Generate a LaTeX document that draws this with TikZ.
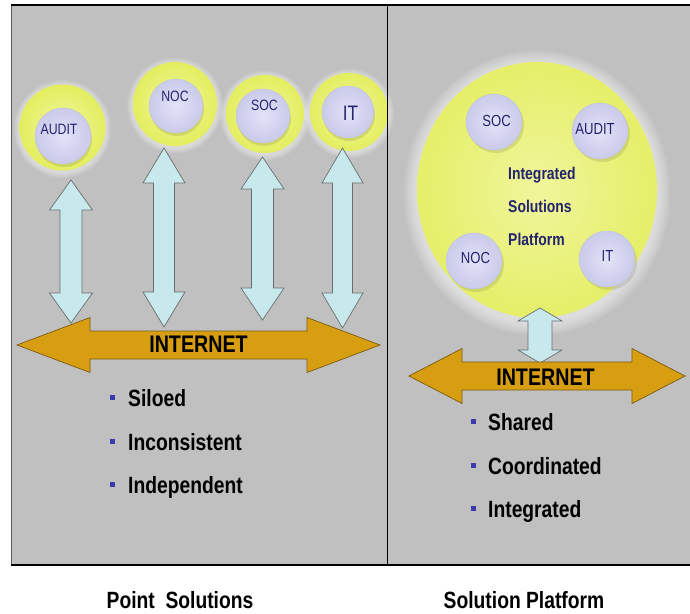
\documentclass[tikz,border=0pt]{standalone}
\usepackage{fontspec}
\setmainfont[FakeStretch=0.82]{Liberation Sans}
\definecolor{panelgray}{HTML}{C0C0C0}
\definecolor{limein}{HTML}{F1F6A0}
\definecolor{limeout}{HTML}{E3EE5E}
\definecolor{biglimein}{HTML}{F0F59C}
\definecolor{biglimeout}{HTML}{E5EF68}
\definecolor{lavin}{HTML}{E2E2F8}
\definecolor{lavout}{HTML}{CACAEA}
\definecolor{navy}{HTML}{23236E}
\definecolor{cyanfill}{HTML}{C8E9EB}
\definecolor{arrowline}{HTML}{6A6E70}
\definecolor{gold}{HTML}{D69E10}
\definecolor{golddark}{HTML}{7A5A12}
\definecolor{bulletblue}{HTML}{3A3AAE}
\newcommand{\vdarrow}[6]{%
  \draw[blockarrow] (#1,#2) -- (#1+#4,#2+#6) -- (#1+#5,#2+#6) -- (#1+#5,#3-#6) -- (#1+#4,#3-#6) -- (#1,#3)
    -- (#1-#4,#3-#6) -- (#1-#5,#3-#6) -- (#1-#5,#2+#6) -- (#1-#4,#2+#6) -- cycle;}
\newcommand{\hdarrow}[6]{%
  \draw[netarrow] (#1,#3) -- (#1+#6,#3-#4) -- (#1+#6,#3-#5) -- (#2-#6,#3-#5) -- (#2-#6,#3-#4) -- (#2,#3)
    -- (#2-#6,#3+#4) -- (#2-#6,#3+#5) -- (#1+#6,#3+#5) -- (#1+#6,#3+#4) -- cycle;}
\tikzset{
  ring/.style={circle, inner sep=0pt, inner color=limein, outer color=limeout},
  ball/.style={circle, inner sep=0pt, inner color=lavin, outer color=lavout, draw=lavout!85!gray, line width=0.3pt},
  lbl/.style={inner sep=0pt, text=navy, font=\fontsize{15}{18}\selectfont, text height=10.8pt, text depth=0pt},
  blockarrow/.style={fill=cyanfill, draw=arrowline, line width=0.7pt, line join=miter},
  netarrow/.style={fill=gold, draw=golddark, line width=0.7pt, line join=miter},
  nettext/.style={inner sep=0pt, font=\bfseries\fontsize{24}{28}\selectfont, text height=17.3pt, text depth=0pt},
  bsq/.style={fill=bulletblue, minimum size=5pt, inner sep=0pt},
  btext/.style={anchor=west, inner sep=0pt, font=\bfseries\fontsize{23.5}{28}\selectfont, text height=17pt, text depth=0pt},
  ptext/.style={anchor=west, inner sep=0pt, text=navy, font=\bfseries\fontsize{17}{20}\selectfont, text height=12.2pt, text depth=0pt},
  captext/.style={inner sep=0pt, font=\bfseries\fontsize{23.5}{26}\selectfont, text height=16.8pt, text depth=0pt},
}
\begin{document}
\begin{tikzpicture}[x=1pt,y=-1pt]
\useasboundingbox (0,0) rectangle (690,613);
\fill[white] (0,0) rectangle (690,613);
\fill[panelgray] (11,5) rectangle (690,565);
% ---------- left panel circles ----------
\foreach \cx/\cy/\r in {62.5/127.5/43, 175/104/42, 265/114/39, 349/112/39}{
  \foreach \k in {1,...,6}{
    \fill[white, opacity=0.09] (\cx,\cy+1.5) circle (\r+7-\k);
  }
}
\node[ring, minimum size=86pt] (auditO) at (62.5,127.5) {};
\node[ring, minimum size=84pt] (nocO) at (175,104) {};
\node[ring, minimum size=78pt] (socO) at (265,114) {};
\node[ring, minimum size=78pt] (itO) at (349,112) {};
\foreach \cx/\cy/\r in {64/139/28, 177/109/27, 264/119/27, 349/115/26}{
  \fill[black!60!olive, opacity=0.15] (\cx,\cy) circle (\r);
}
\node[ball, minimum size=56pt] (auditB) at (63,136) {};
\node[ball, minimum size=54pt] (nocB) at (176,106) {};
\node[ball, minimum size=54pt] (socB) at (263,116) {};
\node[ball, minimum size=52pt] (itB) at (348,112) {};
\node[lbl] (auditL) at (59,129) {AUDIT};
\node[lbl] (nocL) at (175,96.5) {NOC};
\node[lbl] (socL) at (264.5,105) {SOC};
\node[lbl, font=\fontsize{21}{24}\selectfont, text height=15pt] (itL) at (350.5,112.5) {IT};
% ---------- left arrows ----------
\vdarrow{71}{180}{323}{21.5}{11}{30}
\vdarrow{164}{148}{327}{21}{10.5}{35}
\vdarrow{262.5}{157}{320}{21.5}{11}{32}
\vdarrow{342.5}{148}{328}{20.5}{10}{35}
\hdarrow{17}{380}{345}{27.5}{14}{73}
\node[nettext] (netL) at (198.5,344) {INTERNET};
% ---------- left bullets ----------
\node[bsq] (bl1) at (112,397.5) {};
\node[btext] (tl1) at (128,398) {Siloed};
\node[bsq] (bl2) at (112,441) {};
\node[btext] (tl2) at (128,441.5) {Inconsistent};
\node[bsq] (bl3) at (112,484.5) {};
\node[btext] (tl3) at (128,485) {Independent};
% ---------- right panel ----------
\foreach \k in {1,...,10}{
  \fill[white, opacity=0.07] (537,193) ellipse [x radius=120+15-1.4*\k, y radius=128+16-1.4*\k];
}
\shade[inner color=biglimein, outer color=biglimeout] (537,190) ellipse [x radius=120, y radius=128];
\coordinate (bigC) at (537,190);
\foreach \cx/\cy/\r in {496/125/28, 602/134/28, 476/264/28, 609/262/28}{
  \fill[black!60!olive, opacity=0.15] (\cx,\cy) circle (\r);
}
\node[ball, minimum size=56pt] (socR) at (494,122) {};
\node[ball, minimum size=56pt] (auditR) at (600,131) {};
\node[ball, minimum size=56pt] (nocR) at (474,261) {};
\node[ball, minimum size=56pt] (itR) at (607,259) {};
\node[lbl, font=\fontsize{16}{19}\selectfont, text height=11.5pt] (socRL) at (496.5,121) {SOC};
\node[lbl, font=\fontsize{16}{19}\selectfont, text height=11.5pt] (auditRL) at (595,129) {AUDIT};
\node[lbl, font=\fontsize{16}{19}\selectfont, text height=11.5pt] (nocRL) at (475.5,258) {NOC};
\node[lbl, font=\fontsize{16}{19}\selectfont, text height=11.5pt] (itRL) at (607.5,256) {IT};
\node[ptext] (ip1) at (508,173) {Integrated};
\node[ptext] (ip2) at (508,206.5) {Solutions};
\node[ptext] (ip3) at (508,239.5) {Platform};
\vdarrow{540}{308}{363}{22}{12}{13}
\hdarrow{409}{685}{376}{27.5}{14}{53}
\node[nettext] (netR) at (545.5,376.5) {INTERNET};
\node[bsq] (br1) at (473,421.5) {};
\node[btext] (tr1) at (488,422) {Shared};
\node[bsq] (br2) at (473,465) {};
\node[btext] (tr2) at (488,465.5) {Coordinated};
\node[bsq] (br3) at (473,508) {};
\node[btext] (tr3) at (488,508.5) {Integrated};
% ---------- panel frame ----------
\draw[gray!70!black, line width=1pt] (11,5) -- (11,565);
\draw[black, line width=1.5pt] (11,5) -- (690,5);
\draw[black, line width=1.5pt] (11,565) -- (690,565);
\draw[black, line width=1.2pt] (387.5,5) -- (387.5,565);
% ---------- captions ----------
\node[captext] (capL) at (180,600.5) {Point~~Solutions};
\node[captext] (capR) at (524,600.5) {Solution Platform};
\end{tikzpicture}
\end{document}
